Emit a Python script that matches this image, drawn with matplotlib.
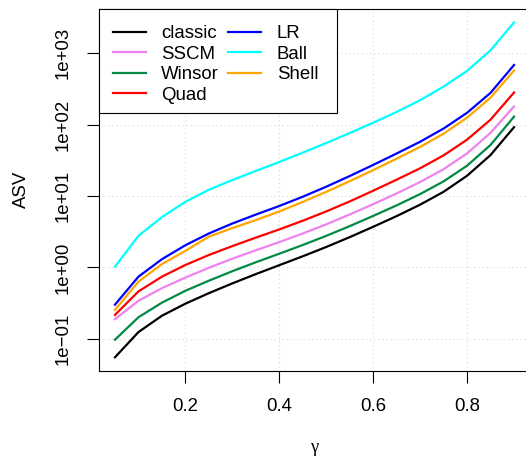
import numpy as np
import matplotlib
matplotlib.use("Agg")
import matplotlib.pyplot as plt
from matplotlib.patches import Rectangle

plt.rcParams['font.family'] = ['Liberation Sans', 'DejaVu Sans']

# data
gamma = [0.05, 0.10, 0.15, 0.20, 0.25, 0.30, 0.35, 0.40, 0.45,
         0.50, 0.55, 0.60, 0.65, 0.70, 0.75, 0.80, 0.85, 0.90]
classic = [0.055, 0.124, 0.210, 0.310, 0.435, 0.596, 0.804, 1.072, 1.429,
           1.928, 2.649, 3.698, 5.22, 7.55, 11.43, 19.19, 37.4, 91.8]
sscm = [0.188, 0.340, 0.511, 0.719, 0.986, 1.321, 1.734, 2.259, 2.979,
        4.00, 5.50, 7.67, 10.84, 15.67, 23.7, 39.4, 76.7, 179]
winsor = [0.097, 0.200, 0.320, 0.470, 0.650, 0.883, 1.178, 1.552, 2.056,
          2.761, 3.776, 5.25, 7.38, 10.62, 16.0, 26.5, 51.8, 129]
quad = [0.216, 0.460, 0.740, 1.079, 1.489, 1.986, 2.606, 3.396, 4.498,
        6.067, 8.375, 11.83, 16.9, 24.4, 37.0, 61.4, 117, 281]
lr = [0.300, 0.740, 1.30, 2.04, 2.98, 4.11, 5.48, 7.23, 9.75,
      13.46, 19.0, 27.2, 39.3, 57.4, 87.9, 146, 278, 682]
ball = [1.02, 2.76, 5.05, 8.28, 12.2, 16.7, 22.4, 29.9, 40.4,
        55.1, 76.0, 106, 150, 219, 340, 564, 1096, 2692]
shell = [0.254, 0.630, 1.11, 1.70, 2.69, 3.55, 4.59, 6.05, 8.26,
         11.4, 16.1, 23.0, 33.3, 48.6, 74.5, 125, 238, 571]

names = ["classic", "SSCM", "Winsor", "Quad", "LR", "Ball", "Shell"]
series = [classic, sscm, winsor, quad, lr, ball, shell]
colors = ["black", "violet", "#008B45", "red", "blue", "cyan", "orange"]

x_ticks = [0.2, 0.4, 0.6, 0.8]
y_ticks = [0.1, 1, 10, 100, 1000]
y_labels = ["1e\u221201", "1e+00", "1e+01", "1e+02", "1e+03"]

fs = 13.4
fig = plt.figure(figsize=(5.26, 4.58), dpi=100)
ax = fig.add_axes([99 / 526, (458 - 370.7) / 458, 431 / 526, (370.7 - 9) / 458])

for vals, name, col in zip(series, names, colors):
    ax.plot(gamma, vals, color=col, lw=1.6, label=name, zorder=3)

ax.set_yscale('log')
# R style axis limits: data range plus 4% on each side
xr = max(gamma) - min(gamma)
ax.set_xlim(min(gamma) - 0.04 * xr, max(gamma) + 0.04 * xr)
lo = np.log10(min(min(s) for s in series))
hi = np.log10(max(max(s) for s in series))
yr = hi - lo
ax.set_ylim(10 ** (lo - 0.04 * yr), 10 ** (hi + 0.04 * yr))

ax.set_xticks(x_ticks)
ax.set_xticklabels([str(t) for t in x_ticks], fontsize=fs)
ax.set_yticks(y_ticks)
ax.set_yticklabels(y_labels, fontsize=fs, rotation=90, va='center')
ax.minorticks_off()
ax.tick_params(axis='x', length=8.6, width=0.8, pad=11)
ax.tick_params(axis='y', length=8.6, width=0.8, pad=11)

for t in x_ticks:
    ax.axvline(t, color='lightgray', lw=0.75, ls=(0, (1, 3)), zorder=1)
for t in y_ticks:
    ax.axhline(t, color='lightgray', lw=0.75, ls=(0, (1, 3)), zorder=1)

for sp in ax.spines.values():
    sp.set_linewidth(0.8)

ax.set_xlabel("\u03b3", fontsize=fs, family='Liberation Serif', labelpad=17)
ax.set_ylabel("ASV", fontsize=fs, labelpad=18)

# legend box (white, framed) drawn like R's legend()
box_w = (337 - 99) / 431
box_h = (113.3 - 9) / (370.7 - 9)
ax.add_patch(Rectangle((0, 1 - box_h), box_w, box_h, transform=ax.transAxes,
                       facecolor='white', edgecolor='black', lw=0.8,
                       zorder=4, clip_on=False))
leg = ax.legend(ncol=2, frameon=False, fontsize=fs, loc='upper left',
                bbox_to_anchor=(113 / 526, (458 - 25) / 458),
                bbox_transform=fig.transFigure, borderpad=0, borderaxespad=0,
                handlelength=1.75, handletextpad=0.85, columnspacing=0.5,
                labelspacing=0.19)
leg.set_zorder(5)

fig.savefig("out.png", dpi=100)
